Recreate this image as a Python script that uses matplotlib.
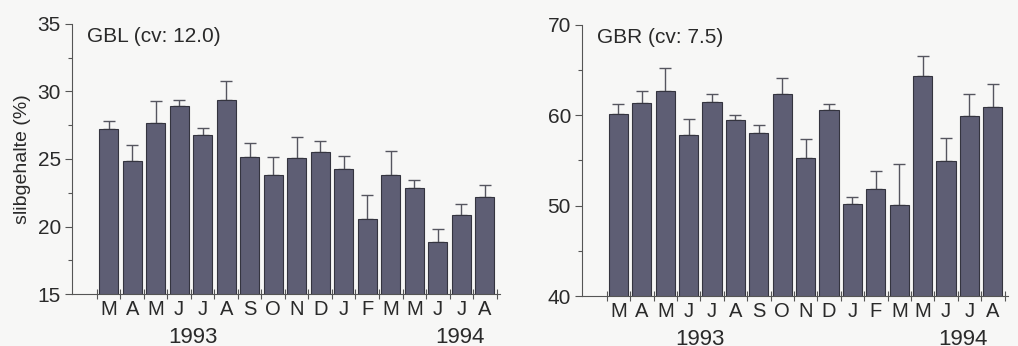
import numpy as np
import matplotlib
matplotlib.use("Agg")
import matplotlib.pyplot as plt
from matplotlib.ticker import MultipleLocator

plt.rcParams['font.family'] = ['Liberation Sans', 'DejaVu Sans']

months = ["M", "A", "M", "J", "J", "A", "S", "O", "N", "D", "J", "F", "M", "M", "J", "J", "A"]
years = ["1993", "1994"]
year_pos_l = [3.6, 14.95]
year_pos_r = [3.47, 14.73]

# GBL (links)
gbl_mean = [27.2, 24.86, 27.65, 28.9, 26.8, 29.38, 25.14, 23.78, 25.09, 25.53,
            24.27, 20.57, 23.78, 22.87, 18.87, 20.87, 22.15]
gbl_top = [27.8, 26.05, 29.28, 29.35, 27.3, 30.76, 26.17, 25.16, 26.62, 26.3,
           25.23, 22.32, 25.56, 23.48, 19.83, 21.66, 23.06]

# GBR (rechts)
gbr_mean = [60.17, 61.32, 62.72, 57.81, 61.47, 59.43, 58.0, 62.35, 55.26, 60.58,
            50.13, 51.86, 50.05, 64.35, 54.93, 59.91, 60.95]
gbr_top = [61.24, 62.72, 65.2, 59.55, 62.32, 60.06, 58.95, 64.09, 57.33, 61.21,
           50.94, 53.82, 54.56, 66.6, 57.48, 62.39, 63.42]

bar_col = "#5e5e74"
edge_col = "#34343f"
txt_col = "#2a2a2a"
bg = "#f7f7f6"

fig = plt.figure(figsize=(10.18, 3.46), dpi=100, facecolor=bg)
ax1 = fig.add_axes([0.0707, 0.150, 0.4203, 0.781])
ax2 = fig.add_axes([0.5717, 0.1445, 0.4183, 0.7835])


def draw(ax, mean, top, ylim, major, title, year_pos):
    x = np.arange(len(mean))
    err = np.array(top) - np.array(mean)
    ax.set_facecolor(bg)
    ax.bar(x, mean, width=0.82, color=bar_col, edgecolor=edge_col, linewidth=0.8, zorder=2)
    ax.errorbar(x, mean, yerr=[np.zeros_like(err), err], fmt="none", ecolor="#55555f",
                elinewidth=1.0, capsize=4, capthick=1.0, zorder=1)
    ax.set_ylim(*ylim)
    ax.set_xlim(-1.56, len(mean) - 0.36)
    ax.yaxis.set_major_locator(MultipleLocator(major))
    ax.yaxis.set_minor_locator(MultipleLocator(major / 2))
    for s in ["top", "right"]:
        ax.spines[s].set_visible(False)
    ax.spines["left"].set_color("#555555")
    ax.spines["bottom"].set_color("#555555")
    ax.tick_params(axis="y", which="major", direction="out", length=5, width=0.8,
                   color="#555555", labelsize=15, pad=3, labelcolor=txt_col)
    ax.tick_params(axis="y", which="minor", direction="out", length=3, width=0.8,
                   color="#555555")
    # ticks between bars, month labels under bars
    ax.set_xticks(np.arange(len(mean) + 1) - 0.5)
    ax.set_xticklabels([])
    ax.tick_params(axis="x", which="major", direction="inout", length=7, width=0.8,
                   color="#555555")
    ax.set_xticks(x, minor=True)
    ax.set_xticklabels(months, minor=True)
    ax.tick_params(axis="x", which="minor", length=0, labelsize=14.5, pad=4.5,
                   labelcolor=txt_col)
    for yr, p in zip(years, year_pos):
        ax.text(p, -0.12, yr, transform=ax.get_xaxis_transform(), ha="center",
                va="top", fontsize=16, color=txt_col)
    ax.text(0.035, 0.99, title, transform=ax.transAxes, ha="left", va="top",
            fontsize=15, color=txt_col)


draw(ax1, gbl_mean, gbl_top, (15, 35), 5, "GBL (cv: 12.0)", year_pos_l)
draw(ax2, gbr_mean, gbr_top, (40, 70), 10, "GBR (cv: 7.5)", year_pos_r)
ax1.set_ylabel("slibgehalte (%)", fontsize=14, color=txt_col, labelpad=5)

fig.savefig("out.png", dpi=100, facecolor=bg)
